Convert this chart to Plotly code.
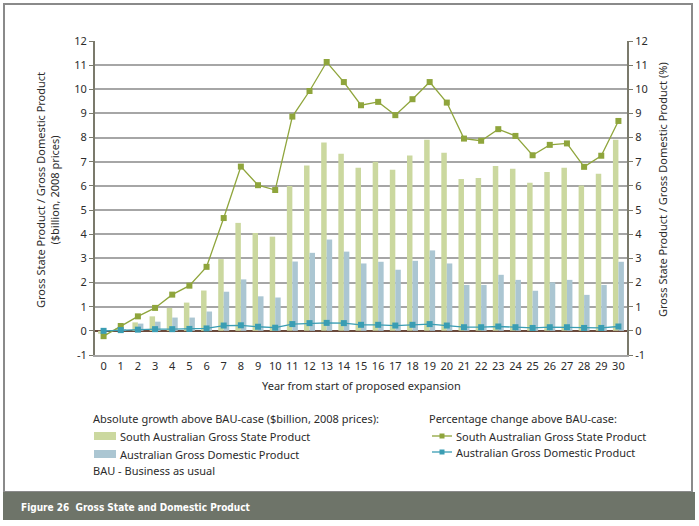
import plotly.graph_objects as go

years = list(range(0, 31))
year_labels = [str(y) for y in years]

sa_gsp_abs = [-0.12, 0.1, 0.35, 0.6, 0.95, 1.17, 1.67, 2.97, 4.47, 4.05, 3.9, 6.0, 6.85, 7.8, 7.33,
              6.75, 7.0, 6.67, 7.26, 7.91, 7.37, 6.29, 6.33, 6.83, 6.71, 6.13, 6.58, 6.75, 6.02, 6.5, 7.91]
au_gdp_abs = [0.02, 0.05, 0.3, 0.38, 0.55, 0.55, 0.8, 1.62, 2.13, 1.43, 1.38, 2.87, 3.23, 3.78, 3.28,
              2.79, 2.86, 2.53, 2.9, 3.33, 2.79, 1.9, 1.9, 2.32, 2.11, 1.66, 2.01, 2.11, 1.49, 1.9, 2.86]
sa_gsp_pct = [-0.22, 0.2, 0.6, 0.95, 1.5, 1.87, 2.65, 4.67, 6.8, 6.03, 5.83, 8.87, 9.93, 11.13, 10.3,
              9.34, 9.48, 8.93, 9.59, 10.3, 9.45, 7.96, 7.87, 8.35, 8.07, 7.27, 7.7, 7.76, 6.79, 7.25, 8.69]
au_gdp_pct = [0.0, 0.03, 0.05, 0.07, 0.07, 0.08, 0.1, 0.22, 0.23, 0.17, 0.13, 0.28, 0.32, 0.33, 0.32,
              0.25, 0.25, 0.22, 0.25, 0.28, 0.22, 0.15, 0.15, 0.18, 0.15, 0.12, 0.15, 0.15, 0.12, 0.12, 0.18]

y_ticks = list(range(-1, 13))
y_labels = [str(v) for v in y_ticks]

GREEN_BAR = "#cbd89f"
BLUE_BAR = "#abc6d2"
GREEN_LINE = "#8fa53c"
BLUE_LINE = "#3a9db3"
AXIS = "#7b7a6c"
GRID = "#a6a6a6"
FONT = "Noto Sans"
TXT = "#2b2b2b"

W, H = 699, 526
def px(x):
    return x / W
def py(y):
    return 1 - y / H

fig = go.Figure()
fig.add_trace(go.Bar(x=years, y=sa_gsp_abs, marker_color=GREEN_BAR, marker_line_width=0,
                     name="South Australian Gross State Product", showlegend=False))
fig.add_trace(go.Bar(x=years, y=au_gdp_abs, marker_color=BLUE_BAR, marker_line_width=0,
                     name="Australian Gross Domestic Product", showlegend=False))
fig.add_trace(go.Scatter(x=years, y=sa_gsp_pct, yaxis="y2", mode="lines+markers",
                         line=dict(color=GREEN_LINE, width=1.3),
                         marker=dict(symbol="square", size=6, color=GREEN_LINE),
                         showlegend=False))
fig.add_trace(go.Scatter(x=years, y=au_gdp_pct, yaxis="y2", mode="lines+markers",
                         line=dict(color=BLUE_LINE, width=1.3),
                         marker=dict(symbol="square", size=6, color=BLUE_LINE),
                         showlegend=False))

x0, x1 = px(95), px(627)
y0, y1 = py(355), py(41)

fig.update_layout(
    width=W, height=H,
    margin=dict(l=0, r=0, t=0, b=0, autoexpand=False),
    paper_bgcolor="white", plot_bgcolor="white",
    barmode="group", bargap=0.36, bargroupgap=0,
    font=dict(family=FONT, size=11, color=TXT),
    xaxis=dict(domain=[x0, x1], range=[-0.5, 30.5], tickmode="array", tickvals=years,
               ticktext=year_labels, showgrid=False, zeroline=False, showline=True,
               linecolor=GRID, linewidth=2, ticks="", automargin=False,
               tickfont=dict(size=11, color=TXT)),
    yaxis=dict(domain=[y0, y1], range=[-1, 12], tickmode="array", tickvals=y_ticks,
               ticktext=y_labels, automargin=False,
               showgrid=True, gridcolor=GRID, gridwidth=2, zeroline=True,
               zerolinecolor="#6a4a3c", zerolinewidth=2, showline=True, linecolor=AXIS,
               linewidth=2, ticks="outside", ticklen=4, tickcolor=AXIS, tickwidth=1,
               tickfont=dict(size=11, color=TXT)),
    yaxis2=dict(overlaying="y", side="right", anchor="x", range=[-1, 12], tickmode="array",
                tickvals=y_ticks, ticktext=y_labels, automargin=False,
                showgrid=False, zeroline=False, showline=True,
                linecolor=AXIS, linewidth=2, ticks="outside", ticklen=4, tickcolor=AXIS,
                tickfont=dict(size=11, color=TXT)),
)

shapes = []
shapes.append(dict(type="rect", xref="paper", yref="paper", x0=px(4), x1=px(692), y0=py(492), y1=py(4),
                   line=dict(color="#8a8a8a", width=2), fillcolor="rgba(0,0,0,0)", layer="below"))
shapes.append(dict(type="rect", xref="paper", yref="paper", x0=px(3), x1=px(695), y0=py(520), y1=py(492),
                   line=dict(width=0), fillcolor="#6e7469"))
shapes.append(dict(type="rect", xref="paper", yref="paper", x0=px(94), x1=px(116), y0=py(440), y1=py(432),
                   line=dict(width=0), fillcolor=GREEN_BAR))
shapes.append(dict(type="rect", xref="paper", yref="paper", x0=px(94), x1=px(116), y0=py(458), y1=py(450),
                   line=dict(width=0), fillcolor=BLUE_BAR))
for yy, col in [(436, GREEN_LINE), (452, BLUE_LINE)]:
    shapes.append(dict(type="line", xref="paper", yref="paper", x0=px(432), x1=px(452), y0=py(yy), y1=py(yy),
                       line=dict(color=col, width=1.3)))
    shapes.append(dict(type="rect", xref="paper", yref="paper", x0=px(439.5), x1=px(444.5), y0=py(yy + 2.5),
                       y1=py(yy - 2.5), line=dict(width=0), fillcolor=col))
fig.update_layout(shapes=shapes)

ann = []
def text(x, y, s, anchor="left", size=11, color=TXT, family=FONT, angle=0):
    ann.append(dict(xref="paper", yref="paper", x=px(x), y=py(y), text=s, showarrow=False,
                    xanchor=anchor, yanchor="middle", textangle=angle,
                    font=dict(size=size, color=color, family=family)))

text(361, 386, "Year from start of proposed expansion", anchor="center")
text(47, 190, "Gross State Product / Gross Domestic Product<br>($billion, 2008 prices)", anchor="center", angle=-90)
text(662, 190, "Gross State Product / Gross Domestic Product (%)", anchor="center", angle=-90)
text(91, 418, "Absolute growth above BAU-case ($billion, 2008 prices):")
text(118, 436, "South Australian Gross State Product")
text(118, 454, "Australian Gross Domestic Product")
text(91, 470, "BAU - Business as usual")
text(427, 418, "Percentage change above BAU-case:")
text(454, 436, "South Australian Gross State Product")
text(454, 452, "Australian Gross Domestic Product")
text(19, 507, "<b>Figure 26  Gross State and Domestic Product</b>", size=10, color="white",
     family="DejaVu Sans Condensed, Roboto")
fig.update_layout(annotations=ann)

fig.write_html("out.html", config={"displayModeBar": False},
               post_script="document.body.style.margin='0';")
